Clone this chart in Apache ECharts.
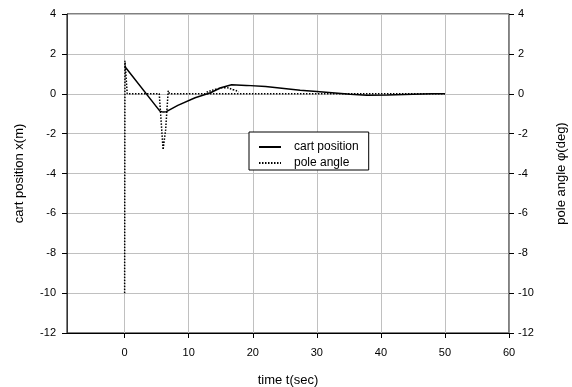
<!DOCTYPE html>
<html>
<head>
<meta charset="utf-8">
<script src="https://cdn.jsdelivr.net/npm/echarts@6/dist/echarts.min.js"></script>
<style>
  html, body { margin: 0; padding: 0; background: #fff; }
  #chart { width: 572px; height: 387px; }
</style>
</head>
<body>
<div id="chart"></div>
<script>
// cart position x(m) over time t(sec)
const cartT = [0, 5.5, 6.0, 6.5, 8.3, 11, 13.4, 15, 16.7, 19, 22, 27.4, 30, 35.2, 37.8, 41, 45, 48, 50]
const cartX = [1.38, -0.87, -0.92, -0.9, -0.58, -0.2, 0.05, 0.3, 0.45, 0.42, 0.36, 0.18, 0.11, -0.03, -0.07, -0.06, -0.02, 0, 0]

// pole angle phi(deg)
const poleT = [0, 0.05, 0.4, 5.4, 5.7, 6.0, 6.4, 6.8, 7.0, 20, 30, 40, 50]
const poleA = [-10, 1.65, 0, 0, -1.4, -2.8, -1.8, 0.15, 0, 0, 0, 0, 0]
// small bump of the pole angle following the cart near t = 15
const bumpT = [12.8, 14.5, 15.7, 17, 17.8]
const bumpA = [0.08, 0.25, 0.3, 0.2, 0.1]

const xTicks = [0, 10, 20, 30, 40, 50, 60]

const font = 'Liberation Sans'
const pair = (xs, ys) => xs.map((x, i) => [x, ys[i]])

const chart = echarts.init(document.getElementById('chart'))
chart.setOption({
  animation: false,
  textStyle: { fontFamily: font },
  grid: {
    left: 67, right: 63, top: 14, bottom: 54,
    outerBoundsMode: 'none',
    show: true, borderColor: '#000', borderWidth: 1
  },
  legend: {
    orient: 'vertical',
    left: 249, top: 132,
    padding: [9, 10, 1, 9],
    itemGap: 4,
    itemWidth: 22, itemHeight: 10,
    itemStyle: { opacity: 0, borderWidth: 0 },
    borderColor: '#000', borderWidth: 1,
    backgroundColor: '#fff',
    textStyle: { fontFamily: font, fontSize: 12, color: '#000', padding: [0, 0, 0, 8] },
    data: ['cart position', 'pole angle']
  },
  xAxis: {
    type: 'value',
    min: -9, max: 60,
    name: 'time t(sec)',
    nameLocation: 'middle',
    nameGap: 41,
    nameTextStyle: { fontFamily: font, fontSize: 13, color: '#000' },
    axisLine: { onZero: false, lineStyle: { color: '#000', width: 1 } },
    axisTick: { inside: false, length: 5, customValues: xTicks, lineStyle: { color: '#000' } },
    axisLabel: { customValues: xTicks, margin: 14, fontSize: 11, color: '#000', fontFamily: font },
    splitLine: { show: true, lineStyle: { color: '#c0c0c0', width: 1 } }
  },
  yAxis: [{
    type: 'value',
    min: -12, max: 4, interval: 2,
    name: 'cart position x(m)',
    nameLocation: 'middle',
    nameGap: 41,
    nameTextStyle: { fontFamily: font, fontSize: 13, color: '#000' },
    axisLine: { show: true, onZero: false, lineStyle: { color: '#333', width: 1 } },
    axisTick: { show: true, length: 5, lineStyle: { color: '#000' } },
    axisLabel: { margin: 11, fontSize: 11, color: '#000', fontFamily: font },
    splitLine: { show: true, lineStyle: { color: '#c0c0c0', width: 1 } }
  }, {
    type: 'value',
    position: 'right',
    min: -12, max: 4, interval: 2,
    name: 'pole angle \u03c6(deg)',
    nameLocation: 'middle',
    nameGap: 46,
    nameRotate: 90,
    nameTextStyle: { fontFamily: font, fontSize: 13, color: '#000' },
    axisLine: { show: true, onZero: false, lineStyle: { color: '#808080', width: 1.5 } },
    axisTick: { show: true, length: 5, lineStyle: { color: '#000' } },
    axisLabel: { margin: 9, fontSize: 11, color: '#000', fontFamily: font },
    splitLine: { show: false }
  }],
  series: [{
    name: 'cart position',
    type: 'line',
    data: pair(cartT, cartX),
    showSymbol: false,
    symbol: 'none',
    lineStyle: { color: '#000', width: 1.5, type: 'solid' },
    itemStyle: { color: '#000' },
    z: 3
  }, {
    name: 'pole angle',
    type: 'line',
    data: pair(poleT, poleA),
    showSymbol: false,
    symbol: 'none',
    lineStyle: { color: '#000', width: 1.5, type: [1.5, 1.5] },
    itemStyle: { color: '#000' },
    z: 2
  }, {
    name: 'pole bump',
    type: 'line',
    data: pair(bumpT, bumpA),
    showSymbol: false,
    symbol: 'none',
    smooth: true,
    lineStyle: { color: '#000', width: 1.5, type: [1.5, 1.5] },
    z: 2
  }]
})
</script>
</body>
</html>
